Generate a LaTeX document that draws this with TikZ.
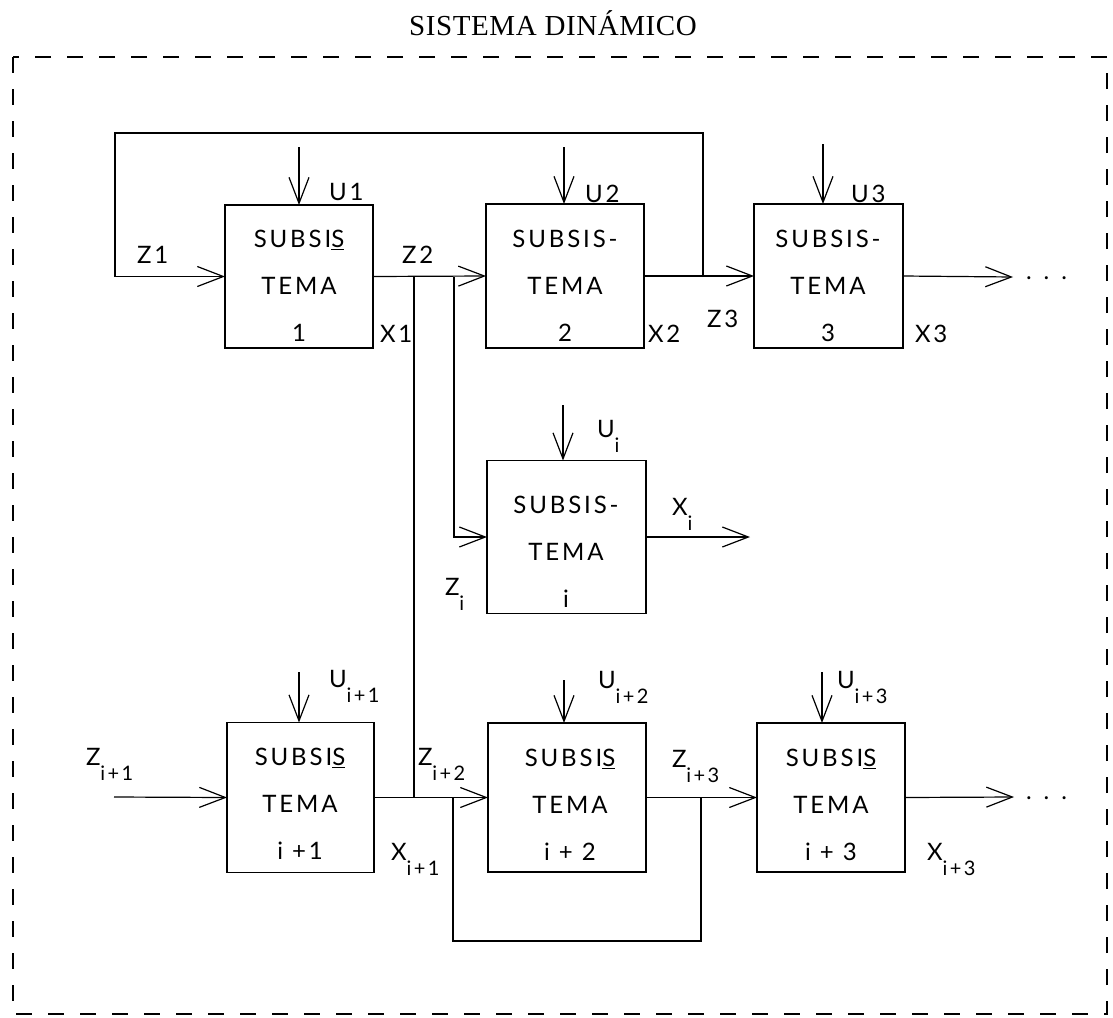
\documentclass[tikz,border=0pt]{standalone}
\usepackage{fontspec}
\usetikzlibrary{arrows.meta}
\newfontfamily\lblfont{Lato}[LetterSpace=12]
\newfontfamily\ttlfont{Liberation Serif}[LetterSpace=2]
\newcommand{\sbx}[2]{#1\raisebox{-15pt}{\fontsize{20}{20}\selectfont #2}}
\begin{document}
\begin{tikzpicture}[x=1pt,y=-1pt,
  every node/.style={inner sep=0pt, outer sep=0pt},
  blk/.style={draw, line width=1.2pt, rectangle},
  ln/.style={line width=1.2pt},
  arr/.style={ln, -{Straight Barb[length=26pt,width=20pt,line width=1.2pt]}},
  txt/.style={align=center, font={\lblfont\fontsize{24}{47}\selectfont}},
  lbl/.style={anchor=base west, font={\lblfont\fontsize{24}{28}\selectfont}},
  frame/.style={line width=1.2pt, dash pattern=on 16pt off 16pt},
  ]
\useasboundingbox (0,0) rectangle (1113,1017);

% title and frame
\node[font={\ttlfont\fontsize{29}{32}\selectfont}] (title) at (553,23) {SISTEMA DINÁMICO};
\draw[frame] (13,57) rectangle (1107,1014);

% boxes
\node[blk, minimum width=148pt, minimum height=143pt] (b1) at (299,276.5) {};
\node[blk, minimum width=158pt, minimum height=144pt] (b2) at (565,276) {};
\node[blk, minimum width=149pt, minimum height=144pt] (b3) at (828.5,276) {};
\node[blk, minimum width=159pt, minimum height=153pt] (bi) at (566.5,537) {};
\node[blk, minimum width=147pt, minimum height=150pt] (b4) at (300.5,797.5) {};
\node[blk, minimum width=158pt, minimum height=149pt] (b5) at (567,797.5) {};
\node[blk, minimum width=148pt, minimum height=149pt] (b6) at (831,797.5) {};

% box texts
\node[txt] (t1) at (299,286) {SUBSI\underline{S}\\TEMA\\1};
\node[txt] (t2) at (565,286) {SUBSIS-\\TEMA\\2};
\node[txt] (t3) at (828,286) {SUBSIS-\\TEMA\\3};
\node[txt] (ti) at (566,552) {SUBSIS-\\TEMA\\i};
\node[txt] (t4) at (300,804) {SUBSI\underline{S}\\TEMA\\i +1};
\node[txt] (t5) at (570,805) {SUBSI\underline{S}\\TEMA\\i + 2};
\node[txt] (t6) at (831,805) {SUBSI\underline{S}\\TEMA\\i + 3};

% coordinates
\coordinate (u1) at (299,147);
\coordinate (u2) at (564,147);
\coordinate (u3) at (823,144);
\coordinate (ui) at (563,405);
\coordinate (u4) at (299,672);
\coordinate (u5) at (564,680);
\coordinate (u6) at (822,672);
\coordinate (j3) at (703,277);
\coordinate (fl) at (115,133);
\coordinate (j1) at (414,277);
\coordinate (j1b) at (414,797);
\coordinate (j2) at (454,277);
\coordinate (o3) at (1013,277);
\coordinate (oi) at (750,537);
\coordinate (zi1) at (114,797);
\coordinate (o6) at (1014,797);
\coordinate (j4) at (453,797);
\coordinate (j5) at (701,797);
\coordinate (lb) at (453,941);

% input arrows U
\draw[arr] (u1) -- (u1 |- b1.north);
\draw[arr] (u2) -- (u2 |- b2.north);
\draw[arr] (u3) -- (u3 |- b3.north);
\draw[arr] (ui) -- (ui |- bi.north);
\draw[arr] (u4) -- (u4 |- b4.north);
\draw[arr] (u5) -- (u5 |- b5.north);
\draw[arr] (u6) -- (u6 |- b6.north);

% top row
\draw[arr] (j3) |- (fl) |- (b1.west);
\draw[arr] (b1.east) -- (b2.west);
\draw[arr] (b2.east) -- (b3.west);
\draw[arr] (b3.east) -- (o3);
\draw[ln] (j1) -- (j1b);
\draw[arr] (j2) |- (bi.west);
\draw[arr] (bi.east) -- (oi);

% bottom row
\draw[arr] (zi1) -- (b4.west);
\draw[arr] (b4.east) -- (b5.west);
\draw[arr] (b5.east) -- (b6.west);
\draw[arr] (b6.east) -- (o6);
\draw[ln] (j4) -- (lb) -| (j5);

% dots
\node[lbl] (d1) at (1026,279) {. . .};
\node[lbl] (d2) at (1026,799) {. . .};

% labels
\node[lbl] (lu1) at (329,200) {U1};
\node[lbl] (lu2) at (585,202) {U2};
\node[lbl] (lu3) at (851,202) {U3};
\node[lbl] (lz1) at (137,263) {Z1};
\node[lbl] (lz2) at (402,263) {Z2};
\node[lbl] (lx1) at (380,342) {X1};
\node[lbl] (lx2) at (648,342) {X2};
\node[lbl] (lz3) at (707,327) {Z3};
\node[lbl] (lx3) at (915,342) {X3};
\node[lbl] (lui) at (597,437) {\sbx{U}{i}};
\node[lbl] (lxi) at (672,515) {\sbx{X}{i}};
\node[lbl] (lzi) at (445,595) {\sbx{Z}{i}};
\node[lbl] (lu4) at (329,687) {\sbx{U}{i+1}};
\node[lbl] (lu5) at (598,688) {\sbx{U}{i+2}};
\node[lbl] (lu6) at (837,688) {\sbx{U}{i+3}};
\node[lbl] (lz4) at (86,765) {\sbx{Z}{i+1}};
\node[lbl] (lz5) at (418,765) {\sbx{Z}{i+2}};
\node[lbl] (lz6) at (672,767) {\sbx{Z}{i+3}};
\node[lbl] (lx4) at (391,860) {\sbx{X}{i+1}};
\node[lbl] (lx6) at (927,860) {\sbx{X}{i+3}};
\end{tikzpicture}
\end{document}
